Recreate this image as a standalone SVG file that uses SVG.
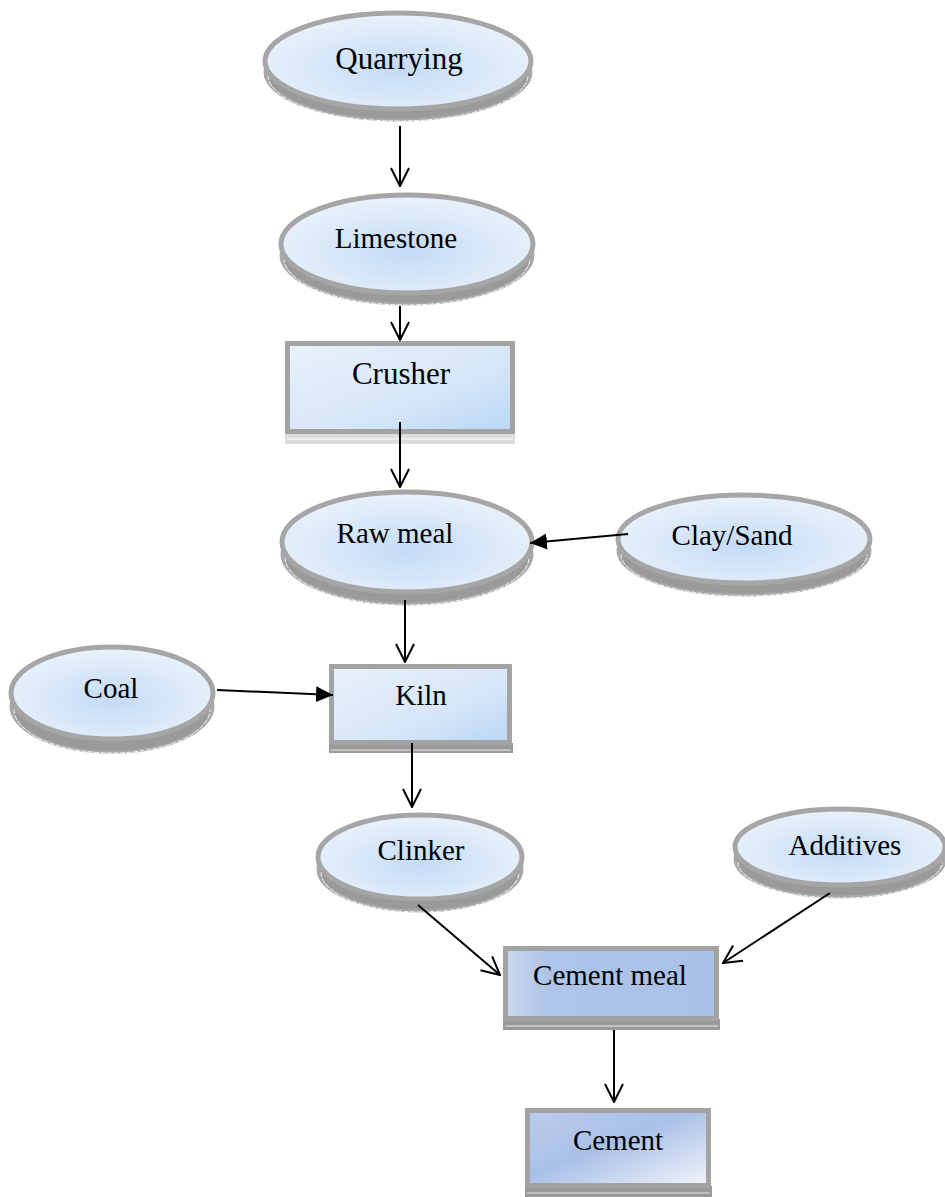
<svg xmlns="http://www.w3.org/2000/svg" width="945" height="1197" viewBox="0 0 945 1197">
<defs>
<radialGradient id="eg" cx="50%" cy="58%" r="55%">
<stop offset="0" stop-color="#c3dbf6"/>
<stop offset="1" stop-color="#e8f1fb"/>
</radialGradient>
<linearGradient id="bg1" x1="0" y1="0" x2="1" y2="1">
<stop offset="0" stop-color="#e9f1fb"/>
<stop offset="0.6" stop-color="#d6e6f8"/>
<stop offset="1" stop-color="#b9d7f5"/>
</linearGradient>
<linearGradient id="bg2" x1="0" y1="0" x2="1" y2="0">
<stop offset="0" stop-color="#c9d8ef"/>
<stop offset="0.2" stop-color="#aec4e8"/>
<stop offset="1" stop-color="#a9c1e8"/>
</linearGradient>
<linearGradient id="bg3" x1="0" y1="0" x2="1" y2="1">
<stop offset="0" stop-color="#bccdec"/>
<stop offset="0.45" stop-color="#a9c0e7"/>
<stop offset="1" stop-color="#f2f5fb"/>
</linearGradient>
<marker id="v" viewBox="0 0 20 20" refX="19" refY="10" markerWidth="20" markerHeight="20" markerUnits="userSpaceOnUse" orient="auto">
<path d="M1,1 L19,10 L1,19" fill="none" stroke="#000" stroke-width="2"/>
</marker>
<marker id="t" viewBox="0 0 18 18" refX="17" refY="9" markerWidth="18" markerHeight="18" markerUnits="userSpaceOnUse" orient="auto">
<path d="M0,1 L17,9 L0,17 Z" fill="#000"/>
</marker>
</defs>
<style>
.rim{fill:#9a9a9a;stroke:#a8a8a8;stroke-width:3}
.rl{fill:none;stroke:#ffffff;stroke-width:0.9;stroke-dasharray:5 1.5}
.face{fill:url(#eg);stroke:#a6a6a6;stroke-width:5}
.bx{stroke:#a3a3a3;stroke-width:5}
.b1{fill:url(#bg1)}
.b2{fill:url(#bg2)}
.b3{fill:url(#bg3)}
.band{fill:#9a9a9a}
.bandl{fill:#dcdcdc}
.bl{stroke:#e8e8e8;stroke-width:1}
text{font-family:'Liberation Serif','Times New Roman',Times,serif;font-size:29px;fill:#000;text-anchor:middle}
.c{fill:none;stroke:#000;stroke-width:2}
</style>

<g id="quarrying">
<ellipse class="rim" cx="398" cy="72" rx="133" ry="48"/>
<path class="rl" d="M268,75 A130,46 0 0 0 528,75"/>
<ellipse class="face" cx="398" cy="61" rx="133" ry="48"/>
<text x="399" y="69" font-family="Liberation Serif, serif" style="font-size:31px">Quarrying</text>
</g>

<g id="limestone">
<ellipse class="rim" cx="407" cy="255" rx="126" ry="49"/>
<path class="rl" d="M284,258 A123,47 0 0 0 530,258"/>
<ellipse class="face" cx="407" cy="244" rx="126" ry="49"/>
<text x="396" y="248" font-family="Liberation Serif, serif">Limestone</text>
</g>

<g id="crusher">
<rect class="bandl" x="285" y="432" width="230" height="12"/>
<line class="bl" x1="287" y1="439" x2="513" y2="439" style="stroke:#ffffff"/>
<rect class="bx b1" x="287.5" y="343.5" width="225" height="88"/>
<text x="401" y="384" font-family="Liberation Serif, serif" style="font-size:31px">Crusher</text>
</g>

<g id="rawmeal">
<ellipse class="rim" cx="407" cy="554" rx="125" ry="50"/>
<path class="rl" d="M285,557 A122,48 0 0 0 529,557"/>
<ellipse class="face" cx="407" cy="542" rx="125" ry="50"/>
<text x="395" y="543" font-family="Liberation Serif, serif">Raw meal</text>
</g>

<g id="claysand">
<ellipse class="rim" cx="744" cy="551" rx="126" ry="44"/>
<path class="rl" d="M621,554 A123,42 0 0 0 867,554"/>
<ellipse class="face" cx="744" cy="539" rx="126" ry="44"/>
<text x="732" y="545" font-family="Liberation Serif, serif">Clay/Sand</text>
</g>

<g id="coal">
<ellipse class="rim" cx="112" cy="706" rx="101" ry="46"/>
<path class="rl" d="M14,709 A98,44 0 0 0 210,709"/>
<ellipse class="face" cx="112" cy="693" rx="101" ry="46"/>
<text x="111" y="698" font-family="Liberation Serif, serif">Coal</text>
</g>

<g id="kiln">
<rect class="band" x="329" y="743" width="184" height="10"/>
<line class="bl" x1="331" y1="750" x2="511" y2="750"/>
<rect class="bx b1" x="331.5" y="666.5" width="178" height="76"/>
<text x="421" y="705" font-family="Liberation Serif, serif">Kiln</text>
</g>

<g id="clinker">
<ellipse class="rim" cx="420" cy="869" rx="102" ry="42"/>
<path class="rl" d="M321,872 A99,40 0 0 0 519,872"/>
<ellipse class="face" cx="420" cy="857" rx="102" ry="42"/>
<text x="421" y="860" font-family="Liberation Serif, serif">Clinker</text>
</g>

<g id="additives">
<ellipse class="rim" cx="840" cy="859" rx="105" ry="38"/>
<path class="rl" d="M738,862 A102,36 0 0 0 942,862"/>
<ellipse class="face" cx="840" cy="847" rx="105" ry="38"/>
<text x="845" y="855" font-family="Liberation Serif, serif">Additives</text>
</g>

<g id="cementmeal">
<rect class="band" x="503" y="1019" width="217" height="11"/>
<line class="bl" x1="505" y1="1026" x2="718" y2="1026"/>
<rect class="bx b2" x="505.5" y="948.5" width="211" height="70"/>
<text x="610" y="985" font-family="Liberation Serif, serif">Cement meal</text>
</g>

<g id="cement">
<rect class="band" x="525" y="1186" width="187" height="11"/>
<line class="bl" x1="527" y1="1193" x2="710" y2="1193"/>
<rect class="bx b3" x="527.5" y="1110.5" width="181" height="75"/>
<text x="618" y="1150" font-family="Liberation Serif, serif">Cement</text>
</g>

<g id="connectors">
<line class="c" x1="400" y1="126" x2="400" y2="186" marker-end="url(#v)"/>
<line class="c" x1="400" y1="306" x2="400" y2="340" marker-end="url(#v)"/>
<line class="c" x1="400" y1="422" x2="400" y2="487" marker-end="url(#v)"/>
<line class="c" x1="628" y1="534" x2="530" y2="543" marker-end="url(#t)"/>
<line class="c" x1="405" y1="600" x2="405" y2="662" marker-end="url(#v)"/>
<line class="c" x1="217" y1="690" x2="333" y2="695" marker-end="url(#t)"/>
<line class="c" x1="412" y1="743" x2="412" y2="807" marker-end="url(#v)"/>
<line class="c" x1="418" y1="905" x2="500" y2="975" marker-end="url(#v)"/>
<line class="c" x1="830" y1="893" x2="723" y2="963" marker-end="url(#v)"/>
<line class="c" x1="614" y1="1030" x2="614" y2="1102" marker-end="url(#v)"/>
</g>
</svg>
